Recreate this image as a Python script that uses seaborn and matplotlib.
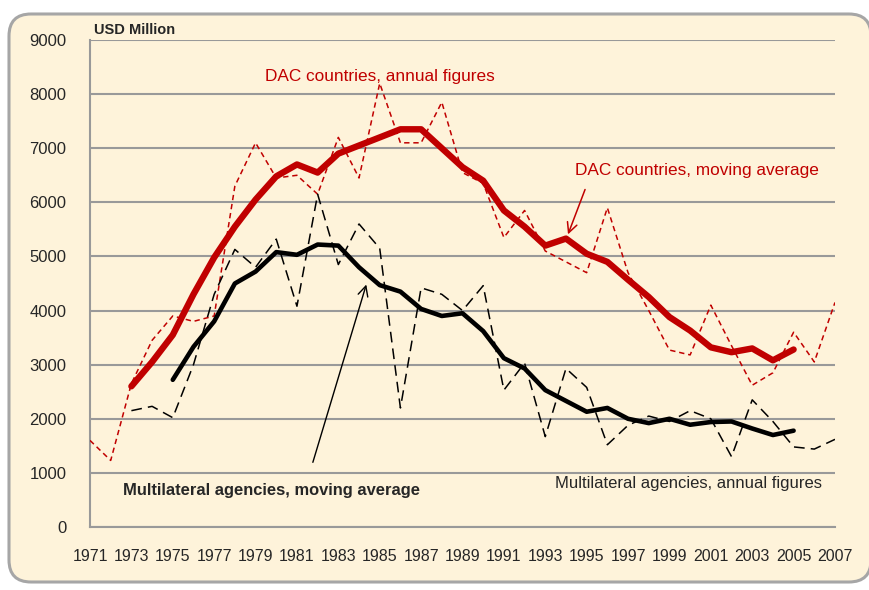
import numpy as np
import pandas as pd
import matplotlib
matplotlib.use("Agg")
import matplotlib.pyplot as plt
from matplotlib.patches import FancyBboxPatch
import seaborn as sns

# DAC countries, annual figures (1971-2007)
dac_years = list(range(1971, 2008))
dac_annual = [1600, 1230, 2650, 3450, 3900, 3800, 3900, 6300, 7100, 6450,
              6500, 6150, 7200, 6450, 8200, 7100, 7100, 7850, 6550, 6350,
              5350, 5850, 5100, 4900, 4700, 5900, 4700, 4000, 3270, 3180,
              4100, 3350, 2620, 2850, 3600, 3050, 4150]

# DAC countries, moving average (1973-2005)
dac_ma_years = list(range(1973, 2006))
dac_ma = [2600, 3050, 3550, 4300, 4980, 5550, 6050, 6480, 6700, 6550,
          6900, 7050, 7200, 7350, 7350, 7000, 6650, 6400, 5850, 5550,
          5200, 5330, 5050, 4900, 4570, 4250, 3880, 3630, 3320, 3230,
          3300, 3080, 3280]

# Multilateral agencies, annual figures (1973-2007)
mul_years = list(range(1973, 2008))
mul_annual = [2150, 2230, 2020, 3000, 4300, 5130, 4800, 5320, 4080, 6150,
              4850, 5600, 5150, 2200, 4420, 4300, 4000, 4460, 2530, 3030,
              1670, 2930, 2580, 1520, 1880, 2050, 1950, 2150, 2000, 1300,
              2350, 1950, 1480, 1440, 1620]

# Multilateral agencies, moving average (1975-2005)
mul_ma_years = list(range(1975, 2006))
mul_ma = [2720, 3330, 3800, 4500, 4720, 5080, 5030, 5220, 5200, 4800,
          4470, 4350, 4030, 3900, 3950, 3620, 3120, 2930, 2530, 2330,
          2130, 2200, 2000, 1920, 2000, 1890, 1940, 1950, 1820, 1700,
          1780]

cream = "#FEF3DA"
red = "#C00000"
grid_c = "#999999"

sns.set_style("white")
plt.rcParams["font.family"] = ["Liberation Sans", "DejaVu Sans"]

fig = plt.figure(figsize=(8.69, 5.9), dpi=100, facecolor="white")
frame = FancyBboxPatch((0.09, 0.08), 8.62, 5.68,
                       boxstyle="round,pad=0,rounding_size=0.22",
                       transform=fig.dpi_scale_trans,
                       facecolor=cream, edgecolor="#A6A6A6", linewidth=2.2,
                       zorder=-5)
fig.patches.append(frame)

ax = fig.add_axes([90 / 869, 63 / 590, 745 / 869, 487 / 590])
ax.set_facecolor(cream)

sns.lineplot(x=dac_years, y=dac_annual, ax=ax, color=red, linewidth=1.1,
             linestyle=(0, (3.5, 2.5)), zorder=3)
sns.lineplot(x=mul_years, y=mul_annual, ax=ax, color="black", linewidth=1.1,
             linestyle=(0, (7, 4)), zorder=3)
sns.lineplot(x=dac_ma_years, y=dac_ma, ax=ax, color=red, linewidth=4.6,
             solid_capstyle="round", solid_joinstyle="round", zorder=4)
sns.lineplot(x=mul_ma_years, y=mul_ma, ax=ax, color="black", linewidth=3.3,
             solid_capstyle="round", solid_joinstyle="round", zorder=4)

ax.set_xlim(1971, 2007)
ax.set_ylim(0, 9000)
ax.set_yticks(range(0, 9001, 1000))
ax.set_xticks(range(1971, 2008, 2))
ax.set_xticks(range(1971, 2008), minor=True)
ax.tick_params(axis="y", length=0, pad=17, labelsize=12)
ax.tick_params(axis="x", which="both", direction="out", length=6,
               color=grid_c, width=1.2, labelsize=11.5, pad=10)
ax.yaxis.grid(True, color=grid_c, linewidth=1.5)
ax.set_axisbelow(True)
for s in ["top", "right"]:
    ax.spines[s].set_visible(False)
for s in ["left", "bottom"]:
    ax.spines[s].set_color(grid_c)
    ax.spines[s].set_linewidth(1.5)
ax.set_xlabel("")
ax.set_ylabel("")

ax.text(1971.2, 9190, "USD Million", fontsize=10.5, fontweight="bold",
        ha="left", va="center")
ax.text(1979.46, 8320, "DAC countries, annual figures", color=red,
        fontsize=12.4, ha="left", va="center")
ax.text(1994.44, 6580, "DAC countries, moving average", color=red,
        fontsize=12.4, ha="left", va="center")
ax.annotate("", xy=(1994.05, 5360), xytext=(1994.97, 6285),
            arrowprops=dict(arrowstyle="->", color=red, lw=1.1,
                            mutation_scale=18))
ax.text(1972.6, 680, "Multilateral agencies, moving average", fontsize=11.9,
        fontweight="bold", ha="left", va="center")
ax.annotate("", xy=(1984.39, 4530), xytext=(1981.73, 1146),
            arrowprops=dict(arrowstyle="->", color="black", lw=1.0,
                            mutation_scale=18))
ax.text(2006.38, 813, "Multilateral agencies, annual figures", fontsize=12,
        ha="right", va="center")

fig.savefig("out.png", dpi=100, facecolor="white")
